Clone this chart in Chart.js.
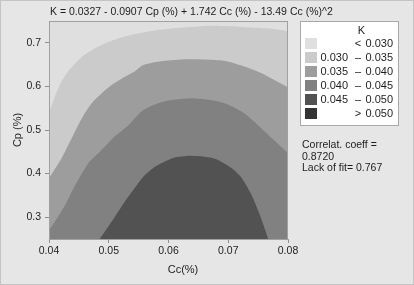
<!DOCTYPE html>
<html>
<head>
<meta charset="utf-8">
<script src="https://cdn.jsdelivr.net/npm/chart.js@4"></script>
<style>
	html, body { margin: 0; padding: 0; background: #e6e6e6; }
	body { width: 414px; height: 285px; position: relative; overflow: hidden; font-family: "Liberation Sans", Arial, sans-serif; color: #1e1e1e; }
	#frame { position: absolute; left: 0; top: 0; width: 414px; height: 285px; box-sizing: border-box; border: 1px solid #c4c4c4; pointer-events: none; }
	#title { position: absolute; left: 50px; top: 5px; font-size: 10.5px; white-space: nowrap; }
	#xlabel { position: absolute; left: 183px; top: 263px; font-size: 11px; transform: translateX(-50%); }
	#legend { position: absolute; left: 300px; top: 21px; width: 99px; height: 105px; box-sizing: border-box; background: #fff; border: 1px solid #a8a8a8; font-size: 11px; }
	#legend .k { position: absolute; top: 2px; text-align: center; }
	#legend .sw { position: absolute; left: 4px; width: 12px; height: 11px; }
	#legend .lo { position: absolute; right: 50px; text-align: right; }
	#legend .mid { position: absolute; left: 52px; width: 10px; text-align: center; }
	#legend .hi { position: absolute; right: 5px; text-align: right; }
	#note { position: absolute; left: 302px; top: 139px; font-size: 10.5px; line-height: 11.7px; }
</style>
</head>
<body>
<canvas id="contour" width="414" height="285"></canvas>
<div id="title"></div>
<div id="xlabel">Cc(%)</div>
<div id="legend"></div>
<div id="note">Correlat. coeff =<br>0.8720<br>Lack of fit= 0.767</div>
<div id="frame"></div>
<script>
// contour boundaries (Cc, Cp)
const edge030 = [[0.0400, 0.538], [0.0410, 0.577], [0.0421, 0.611], [0.0432, 0.634], [0.0444, 0.653], [0.0455, 0.668], [0.0471, 0.683], [0.0494, 0.699], [0.0516, 0.710], [0.0544, 0.720], [0.0580, 0.729], [0.0625, 0.735], [0.0670, 0.739], [0.0717, 0.737], [0.0773, 0.732], [0.0800, 0.726]];
const edge035 = [[0.0400, 0.389], [0.0421, 0.435], [0.0438, 0.481], [0.0455, 0.527], [0.0471, 0.561], [0.0488, 0.584], [0.0505, 0.603], [0.0527, 0.622], [0.0544, 0.635], [0.0558, 0.649], [0.0591, 0.658], [0.0631, 0.662], [0.0670, 0.661], [0.0695, 0.658], [0.0728, 0.645], [0.0756, 0.630], [0.0778, 0.614], [0.0800, 0.598]];
const edge040 = [[0.0400, 0.271], [0.0410, 0.290], [0.0427, 0.328], [0.0444, 0.374], [0.0466, 0.424], [0.0488, 0.454], [0.0510, 0.485], [0.0533, 0.511], [0.0558, 0.546], [0.0591, 0.565], [0.0636, 0.573], [0.0670, 0.569], [0.0695, 0.561], [0.0723, 0.542], [0.0750, 0.511], [0.0773, 0.481], [0.0800, 0.447]];
const edge045 = [[0.0485, 0.250], [0.0505, 0.290], [0.0527, 0.336], [0.0544, 0.368], [0.0560, 0.396], [0.0580, 0.418], [0.0608, 0.436], [0.0636, 0.441], [0.0670, 0.437], [0.0683, 0.431], [0.0706, 0.412], [0.0723, 0.389], [0.0739, 0.351], [0.0753, 0.305], [0.0767, 0.250]];

const xTicks = [0.04, 0.05, 0.06, 0.07, 0.08];
const yTicks = [0.3, 0.4, 0.5, 0.6, 0.7];

const levelLow = ['', '0.030', '0.035', '0.040', '0.045', ''];
const levelMid = ['<', '–', '–', '–', '–', '>'];
const levelHigh = ['0.030', '0.035', '0.040', '0.045', '0.050', '0.050'];
const levelColors = ['#dfdfdf', '#cbcbcb', '#9d9d9d', '#818181', '#525252', '#333333'];

const titleText = 'K = 0.0327 - 0.0907 Cp (%) + 1.742 Cc (%) - 13.49 Cc (%)^2';

document.querySelector('#title').innerText = titleText;

// legend box
var legend = document.querySelector('#legend');
var k = document.createElement('div');
k.className = 'k';
k.style.width = '97px';
k.style.left = '12px';
k.innerText = 'K';
legend.appendChild(k);
levelHigh.forEach((hi, i) => {
	const top = 16 + i * 14;
	const sw = document.createElement('div');
	sw.className = 'sw';
	sw.style.top = top + 'px';
	sw.style.background = levelColors[i];
	legend.appendChild(sw);
	[['lo', levelLow[i]], ['mid', levelMid[i]], ['hi', hi]].forEach(([cls, txt]) => {
		const d = document.createElement('div');
		d.className = cls;
		d.style.top = (top - 1) + 'px';
		d.innerText = txt;
		legend.appendChild(d);
	});
});

const pts = (arr) => arr.map(p => ({x: p[0], y: p[1]}));

function band(data, color, order) {
	return {
		data: pts(data),
		showLine: true,
		fill: 'start',
		backgroundColor: color,
		borderColor: color,
		borderWidth: 0,
		pointRadius: 0,
		tension: 0.25,
		order
	};
}

// plot background + frame
const plotFrame = {
	id: 'plotFrame',
	beforeDatasetsDraw(chart) {
		const a = chart.chartArea;
		chart.ctx.save();
		chart.ctx.fillStyle = levelColors[0];
		chart.ctx.fillRect(a.left, a.top, a.right - a.left, a.bottom - a.top);
		chart.ctx.restore();
	},
	afterDatasetsDraw(chart) {
		const a = chart.chartArea;
		chart.ctx.save();
		chart.ctx.strokeStyle = '#a0a0a0';
		chart.ctx.lineWidth = 1;
		chart.ctx.strokeRect(a.left + 0.5, a.top + 0.5, a.right - a.left - 1, a.bottom - a.top);
		chart.ctx.restore();
	}
};

Chart.defaults.font.family = '"Liberation Sans", Arial, sans-serif';
Chart.defaults.font.size = 10.5;
Chart.defaults.color = '#1e1e1e';

new Chart(document.getElementById('contour'), {
	type: 'scatter',
	data: {
		datasets: [
			band(edge030, levelColors[1], 4),
			band(edge035, levelColors[2], 3),
			band(edge040, levelColors[3], 2),
			band(edge045, levelColors[4], 1)
		]
	},
	options: {
		responsive: false,
		animation: false,
		layout: { padding: { left: 0, top: 21, right: 126, bottom: 0 } },
		plugins: { legend: { display: false }, tooltip: { enabled: false } },
		scales: {
			x: {
				type: 'linear',
				min: 0.04,
				max: 0.08,
				afterBuildTicks: (s) => { s.ticks = xTicks.map(v => ({value: v})); },
				afterFit: (s) => { s.height = 46; },
				ticks: { callback: (v) => v.toFixed(2), padding: 2, maxRotation: 0 },
				grid: { drawOnChartArea: false, tickLength: 4, color: '#909090' },
				border: { color: '#a0a0a0' }
			},
			y: {
				type: 'linear',
				min: 0.25,
				max: 0.75,
				afterBuildTicks: (s) => { s.ticks = yTicks.map(v => ({value: v})); },
				afterFit: (s) => { s.width = 49; },
				ticks: { callback: (v) => v.toFixed(1), padding: 4 },
				grid: { drawOnChartArea: false, tickLength: 4, color: '#909090' },
				border: { color: '#a0a0a0' },
				title: { display: true, text: 'Cp (%)', font: { size: 11 }, padding: { top: 11, bottom: 0 } }
			}
		}
	},
	plugins: [plotFrame]
});
</script>
</body>
</html>
